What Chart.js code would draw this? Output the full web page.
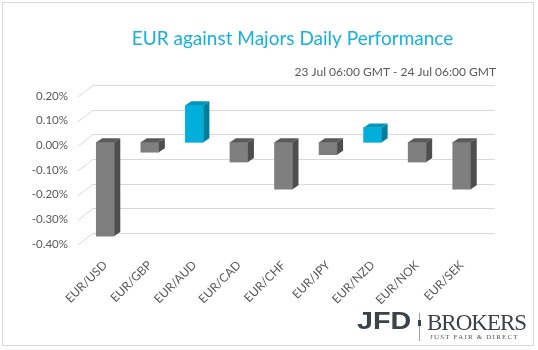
<!DOCTYPE html>
<html>
<head>
<meta charset="utf-8">
<script src="https://cdn.jsdelivr.net/npm/chart.js@4.4.1/dist/chart.umd.min.js"></script>
<style>
  body { margin: 0; background: #fff; }
  #wrap { position: relative; width: 538px; height: 350px; overflow: hidden; }
  #frame { position: absolute; left: 2px; top: 2px; width: 530px; height: 342px; border: 1px solid #d9d9d9; }
  canvas { position: absolute; left: 0; top: 0; }
  .logo { position: absolute; color: #3b4248; white-space: nowrap; }
  #jfd { left: 357px; top: 310px; font: bold 23px "Liberation Sans"; line-height: 23px; transform: scaleX(1.25); transform-origin: left top; }
  #divider { left: 419px; top: 313px; width: 1px; height: 28px; background: #9aa0a5; }
  #dividerMark { left: 418px; top: 320px; width: 3px; height: 6px; background: #3b4248; }
  #brokers { left: 427px; top: 311px; font: 23px "Liberation Serif"; line-height: 23px; letter-spacing: -1px; }
  #tagline { left: 430px; top: 333px; font: 7px "Liberation Serif"; line-height: 8px; letter-spacing: 1.2px; color: #555; }
</style>
</head>
<body>
<div id="wrap">
  <div id="frame"></div>
  <canvas id="perfChart" width="538" height="350"></canvas>
  <div class="logo" id="jfd">JFD</div>
  <div class="logo" id="divider"></div>
  <div class="logo" id="dividerMark"></div>
  <div class="logo" id="brokers">BROKERS</div>
  <div class="logo" id="tagline">JUST FAIR &amp; DIRECT</div>
</div>
<script>
const titleText = "EUR against Majors Daily Performance";
const periodText = "23 Jul 06:00 GMT - 24 Jul 06:00 GMT";

const pairs = ["EUR/USD", "EUR/GBP", "EUR/AUD", "EUR/CAD", "EUR/CHF", "EUR/JPY", "EUR/NZD", "EUR/NOK", "EUR/SEK"];
// daily change in percent
const changes = [-0.38, -0.04, 0.15, -0.08, -0.19, -0.05, 0.06, -0.08, -0.19];

const axisMin = -0.4;
const axisMax = 0.2;
const axisStep = 0.1;

// front / side / top shades for gains and losses
const upColors = ["#00b0da", "#007f9c", "#0097ba"];
const downColors = ["#7f7f7f", "#4e4e4e", "#5a5a5a"];

function shadeFor(value) {
  return value > 0 ? upColors : downColors;
}

// grid lines sit on the back wall, a bit up and to the right
const backGrid = {
  id: "backGrid",
  beforeDatasetsDraw(chart) {
    const { ctx, chartArea, scales } = chart;
    const y = scales.y;
    ctx.save();
    ctx.strokeStyle = "#d9d9d9";
    ctx.lineWidth = 1;
    y.ticks.forEach((t) => {
      const yf = y.getPixelForValue(t.value);
      const yb = Math.round(yf - 8) + 0.5;
      ctx.beginPath();
      ctx.moveTo(chartArea.left - 5, yf + 4);
      ctx.lineTo(chartArea.left + 10, yb);
      ctx.lineTo(chartArea.right + 11, yb);
      ctx.stroke();
    });
    ctx.restore();
  },
};

// side and top faces so the bars look like boxes
const barDepth = {
  id: "barDepth",
  afterDatasetsDraw(chart) {
    const { ctx } = chart;
    const dx = 6;
    const dy = 4;
    const meta = chart.getDatasetMeta(0);
    ctx.save();
    meta.data.forEach((bar, i) => {
      const p = bar.getProps(["x", "y", "base", "width"], true);
      const l = p.x - p.width / 2;
      const r = p.x + p.width / 2;
      const top = Math.min(p.y, p.base);
      const bot = Math.max(p.y, p.base);
      const shade = shadeFor(changes[i]);

      ctx.fillStyle = shade[1];
      ctx.beginPath();
      ctx.moveTo(r, top);
      ctx.lineTo(r + dx, top - dy);
      ctx.lineTo(r + dx, bot - dy);
      ctx.lineTo(r, bot);
      ctx.closePath();
      ctx.fill();

      ctx.fillStyle = shade[2];
      ctx.beginPath();
      ctx.moveTo(l, top);
      ctx.lineTo(l + dx, top - dy);
      ctx.lineTo(r + dx, top - dy);
      ctx.lineTo(r, top);
      ctx.closePath();
      ctx.fill();
    });
    ctx.restore();
  },
};

const headings = {
  id: "headings",
  afterDraw(chart) {
    const { ctx, chartArea } = chart;
    ctx.save();
    ctx.textBaseline = "middle";
    ctx.textAlign = "center";
    ctx.fillStyle = "#18b0dd";
    ctx.font = "19px Lato";
    ctx.fillText(titleText, (chartArea.left + chartArea.right) / 2 + 9, 38.5);
    ctx.textAlign = "right";
    ctx.fillStyle = "#595959";
    ctx.font = "12px Lato";
    ctx.fillText(periodText, chartArea.right + 12, 72.5);
    ctx.restore();
  },
};

window.addEventListener("load", () => {
  const ctx = document.getElementById("perfChart").getContext("2d");
  new Chart(ctx, {
    type: "bar",
    data: {
      labels: pairs,
      datasets: [
        {
          data: changes,
          backgroundColor: changes.map((v) => shadeFor(v)[0]),
          borderWidth: 0,
          barThickness: 18,
        },
      ],
    },
    options: {
      responsive: false,
      animation: false,
      layout: { padding: { top: 93, right: 54, left: 0, bottom: 0 } },
      plugins: {
        legend: { display: false },
        title: { display: false },
        tooltip: { enabled: false },
      },
      scales: {
        x: {
          grid: { display: false, drawTicks: false },
          border: { display: false },
          ticks: {
            color: "#595959",
            font: { family: "Lato", size: 12 },
            minRotation: 45,
            maxRotation: 45,
            autoSkip: false,
            padding: 17,
          },
          afterFit: (scale) => {
            scale.height = 109;
          },
        },
        y: {
          min: axisMin,
          max: axisMax,
          grid: { display: false, drawTicks: false },
          border: { display: false },
          ticks: {
            stepSize: axisStep,
            color: "#595959",
            font: { family: "Lato", size: 11.5 },
            padding: 15,
            labelOffset: 3,
            callback: (v) => (Math.abs(v) < 1e-9 ? 0 : v).toFixed(2) + "%",
          },
          afterFit: (scale) => {
            scale.width = 83;
          },
        },
      },
    },
    plugins: [backGrid, barDepth, headings],
  });
});
</script>
</body>
</html>
